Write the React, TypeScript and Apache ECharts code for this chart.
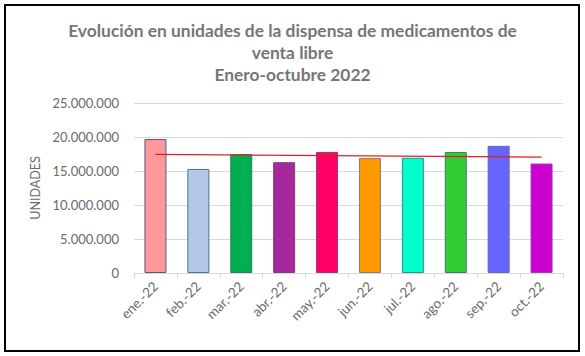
import React, { useEffect, useRef } from "react";
import * as echarts from "echarts";

const categories = ["ene.-22", "feb.-22", "mar.-22", "abr.-22", "may.-22", "jun.-22", "jul.-22", "ago.-22", "sep.-22", "oct.-22"];
const unidades = [19700000, 15300000, 17500000, 16300000, 17800000, 16900000, 16950000, 17800000, 18700000, 16100000];
const barColors = ["#ff9999", "#b4c7e7", "#00b050", "#a5299a", "#ff0066", "#ff9900", "#00ffcc", "#33cc33", "#6666ff", "#cc00cc"];
const barBorders = ["#4f5d8c", "#4f6fa0", "#2e7d6a", "#7a3d8a", "#8e3b8e", "#7f7f7f", "#2e8b9a", "#3a7a7a", "#5b6bbf", "#9a3bc0"];
const trendValues = [17450000, null, null, null, null, null, null, null, null, 17050000];
const yTicks = [0, 5000000, 10000000, 15000000, 20000000, 25000000];

const fmt = (v: number) => String(Math.round(v)).replace(/\B(?=(\d{3})+(?!\d))/g, ".");

export default function App() {
  const ref = useRef<HTMLDivElement>(null);
  useEffect(() => {
    document.body.style.margin = "0";
    const chart = echarts.init(ref.current!, undefined, { renderer: "svg" });
    chart.setOption({
      animation: false,
      backgroundColor: "#ffffff",
      textStyle: { fontFamily: "Lato" },
      title: {
        text: "Evolución en unidades de la dispensa de medicamentos de\nventa libre\nEnero-octubre 2022",
        left: "center",
        top: 14,
        textStyle: { fontFamily: "Lato", fontWeight: "bold", fontSize: 17.4, color: "#767676", lineHeight: 22 },
      },
      graphic: [
        {
          type: "rect",
          shape: { x: 5, y: 5, width: 574, height: 346 },
          style: { fill: "none", stroke: "#000000", lineWidth: 2 },
          silent: true,
        },
      ],
      grid: { left: 134, right: 22, top: 103, bottom: 83 },
      xAxis: {
        type: "category",
        data: categories,
        axisLine: { lineStyle: { color: "#d9d9d9" } },
        axisTick: { show: true, alignWithLabel: false, length: 5, lineStyle: { color: "#d9d9d9" } },
        axisLabel: { rotate: 45, color: "#6a6a6a", fontSize: 13.5, fontFamily: "Lato", margin: 11 },
      },
      yAxis: {
        type: "value",
        min: yTicks[0],
        max: yTicks[yTicks.length - 1],
        interval: yTicks[1] - yTicks[0],
        name: "UNIDADES",
        nameLocation: "middle",
        nameRotate: 90,
        nameGap: 92,
        nameTextStyle: { color: "#6a6a6a", fontSize: 12.5, fontFamily: "Lato" },
        axisLine: { show: false },
        axisTick: { show: false },
        splitLine: { lineStyle: { color: "#d9d9d9" } },
        axisLabel: { color: "#6a6a6a", fontSize: 13, fontFamily: "Lato", margin: 15, formatter: (v: number) => fmt(v) },
      },
      series: [
        {
          type: "bar",
          barWidth: 22,
          data: unidades.map((v, i) => ({
            value: v,
            itemStyle: { color: barColors[i], borderColor: barBorders[i], borderWidth: 1 },
          })),
        },
        {
          type: "line",
          data: trendValues,
          connectNulls: true,
          symbol: "none",
          lineStyle: { color: "#e02020", width: 1.2 },
          z: 5,
        },
      ],
    });
    return () => chart.dispose();
  }, []);
  return <div ref={ref} style={{ width: 585, height: 356 }} />;
}
